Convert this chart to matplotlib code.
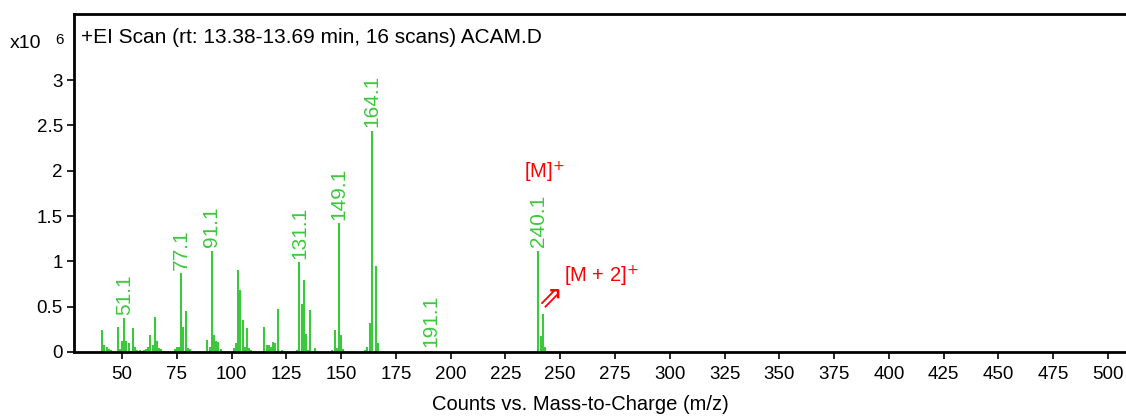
import numpy as np
import matplotlib
matplotlib.use("Agg")
import matplotlib.pyplot as plt

# peak list (m/z, counts in units of 1e6)
mz = [41, 42, 43, 44, 45, 48, 49, 50, 51, 52, 53, 55, 56, 57, 58, 59, 60, 61, 62, 63,
      64, 65, 66, 67, 68, 69, 74, 75, 76, 77, 78, 79, 80, 81, 89, 90, 91, 92, 93, 94,
      95, 101, 102, 103, 104, 105, 106, 107, 108, 109, 115, 116, 117, 118, 119, 120,
      121, 123, 130, 131, 132, 133, 134, 135, 136, 138, 146, 147, 148, 149, 150, 151,
      161, 162, 163, 164, 166, 167, 191, 240, 241, 242, 243]
counts = [0.245, 0.08, 0.05, 0.03, 0.02, 0.28, 0.03, 0.12, 0.37, 0.12, 0.10, 0.27, 0.05,
          0.02, 0.02, 0.015, 0.02, 0.03, 0.06, 0.19, 0.08, 0.39, 0.12, 0.04, 0.03, 0.015,
          0.03, 0.05, 0.06, 0.87, 0.28, 0.45, 0.04, 0.03, 0.135, 0.06, 1.12, 0.19, 0.12,
          0.11, 0.03, 0.04, 0.10, 0.90, 0.68, 0.35, 0.05, 0.26, 0.04, 0.02, 0.28, 0.08,
          0.08, 0.05, 0.11, 0.10, 0.48, 0.02, 0.02, 0.99, 0.53, 0.79, 0.20, 0.02, 0.46,
          0.04, 0.02, 0.245, 0.04, 1.42, 0.19, 0.03, 0.02, 0.05, 0.32, 2.44, 0.95, 0.10,
          0.015, 1.12, 0.18, 0.42, 0.06]

label_mz = [51, 77, 91, 131, 149, 164, 191, 240]
label_txt = ["51.1", "77.1", "91.1", "131.1", "149.1", "164.1", "191.1", "240.1"]

xticks = list(range(50, 501, 25))
yticks = [0, 0.5, 1, 1.5, 2, 2.5, 3]
ytick_labels = ["0", "0.5", "1", "1.5", "2", "2.5", "3"]

plt.rcParams['font.family'] = ['Liberation Sans', 'DejaVu Sans']
green = '#3cc83c'

fig = plt.figure(figsize=(11.26, 4.16), dpi=100)
ax = fig.add_axes([74 / 1126, 64 / 416, 1 - 74 / 1126, 338 / 416])

ax.vlines(mz, 0, counts, color=green, linewidth=1.5)

lookup = dict(zip(mz, counts))
for m, t in zip(label_mz, label_txt):
    ax.annotate(t, (m, lookup[m]), xytext=(0, 2.5), textcoords='offset points',
                rotation=90, ha='center', va='bottom', color=green, fontsize=15)

ax.set_xlim(28.1, 508.2)
ax.set_ylim(0, 3.73)
ax.set_xticks(xticks)
ax.set_yticks(yticks)
ax.set_yticklabels(ytick_labels)
ax.tick_params(axis='both', direction='out', length=5, width=1.2, labelsize=13.5, color='black')
ax.tick_params(axis='x', pad=5)
ax.tick_params(axis='y', pad=3)

for s in ['left', 'top', 'bottom']:
    ax.spines[s].set_linewidth(2)
ax.spines['right'].set_visible(False)

ax.text(0.007, 0.96, "+EI Scan (rt: 13.38-13.69 min, 16 scans) ACAM.D",
        transform=ax.transAxes, ha='left', va='top', fontsize=15)

# annotations for molecular ion
ax.text(242.5, 1.98, "[M]$^{+}$", color='red', fontsize=14.5, ha='center', va='center')
ax.text(251.5, 0.84, "[M + 2]$^{+}$", color='red', fontsize=14.5, ha='left', va='center')
ax.text(245.3, 0.6, "\u21d7", color='red', fontsize=22, ha='center', va='center',
        family=['DejaVu Sans'])

fig.text(10 / 1126, 1 - 44 / 416, "x10", fontsize=14, ha='left', va='center')
fig.text(55 / 1126, 1 - 40 / 416, "6", fontsize=11, ha='left', va='center')

fig.text(580 / 1126, 1.5 / 416, "Counts vs. Mass-to-Charge (m/z)", fontsize=14.5,
         ha='center', va='bottom')

fig.savefig("out.png", dpi=100)
